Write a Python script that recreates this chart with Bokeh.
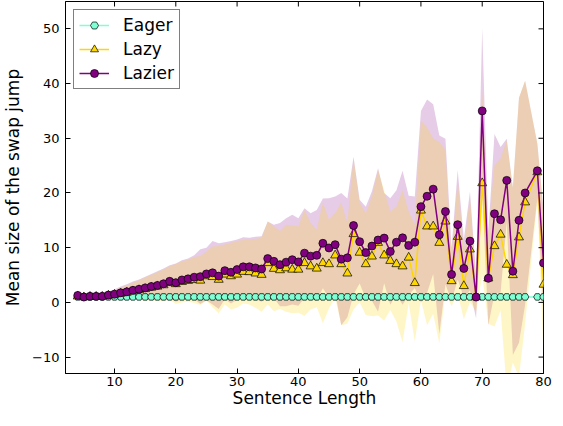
import math
from bokeh.plotting import figure
from bokeh.models import Range1d, FixedTicker, Legend, LegendItem, ColumnDataSource
from bokeh.embed import file_html
from bokeh.resources import INLINE

# Sentence lengths (78 missing in the data)
lengths = [4, 5, 6, 7, 8, 9, 10, 11, 12, 13, 14, 15, 16, 17, 18, 19, 20, 21, 22, 23,
           24, 25, 26, 27, 28, 29, 30, 31, 32, 33, 34, 35, 36, 37, 38, 39, 40, 41, 42, 43,
           44, 45, 46, 47, 48, 49, 50, 51, 52, 53, 54, 55, 56, 57, 58, 59, 60, 61, 62, 63,
           64, 65, 66, 67, 68, 69, 70, 71, 72, 73, 74, 75, 76, 77, 79, 80]

eager = [1.0, 1.0, 1.0, 1.0, 1.0, 1.0, 1.0, 1.0, 1.0, 1.0, 1.0, 1.0, 1.0, 1.0, 1.0, 1.0, 1.0, 1.0, 1.0, 1.0,
         1.0, 1.0, 1.0, 1.0, 1.0, 1.0, 1.0, 1.0, 1.0, 1.0, 1.0, 1.0, 1.0, 1.0, 1.0, 1.0, 1.0, 1.0, 1.0, 1.0,
         1.0, 1.0, 1.0, 1.0, 1.0, 1.0, 1.0, 1.0, 1.0, 1.0, 1.0, 1.0, 1.0, 1.0, 1.0, 1.0, 1.0, 1.0, 1.0, 1.0,
         1.0, 1.0, 1.0, 1.0, 1.0, 1.0, 1.0, 1.0, 1.0, 1.0, 1.0, 1.0, 1.0, 1.0, 1.0, 1.0]

lazy = [1.1, 0.95, 1.05, 1.05, 1.05, 1.25, 1.4, 1.6, 1.8, 2.05, 2.25, 2.45, 2.7, 2.9, 3.15, 3.55, 3.35, 3.75, 3.95, 4.1,
        4.0, 4.8, 4.65, 4.15, 5.1, 4.8, 5.1, 5.6, 5.55, 5.3, 5.05, 7.2, 6.15, 5.9, 6.25, 6.0, 6.0, 7.2, 6.6, 6.2,
        7.2, 7.0, 8.6, 7.0, 5.3, 12.5, 9.1, 7.0, 8.4, 10.9, 8.6, 7.6, 7.0, 6.6, 8.2, 3.55, 16.8, 13.9, 13.9, 10.9,
        14.8, 3.9, 12.0, 3.0, 9.7, 0.97, 21.8, 4.4, 10.3, 12.4, 6.9, 5.0, 11.9, 18.3, 23.8, 3.25]

lazier = [1.27, 0.97, 1.1, 1.1, 1.1, 1.33, 1.5, 1.75, 1.93, 2.2, 2.4, 2.65, 2.9, 3.1, 3.4, 3.85, 3.6, 4.1, 4.3, 4.6,
          4.7, 5.2, 5.4, 4.8, 5.8, 5.5, 6.0, 6.5, 6.5, 6.3, 6.1, 8.0, 7.5, 6.9, 7.35, 7.8, 7.4, 9.0, 8.45, 8.6,
          10.8, 9.95, 10.55, 7.9, 8.15, 14.05, 11.1, 9.1, 10.3, 11.4, 11.75, 9.3, 11.0, 11.8, 10.4, 11.0, 17.5, 19.4, 20.7, 12.35,
          16.6, 5.1, 14.2, 6.2, 11.2, 0.97, 35.0, 4.4, 16.2, 15.1, 22.3, 5.7, 15.0, 20.0, 24.05, 7.2]

# upper edge of each shaded band (band is symmetric about the mean)
lazy_upper = [1.1, 0.95, 1.1, 1.2, 1.4, 1.8, 2.2, 2.7, 3.1, 3.6, 4.0, 4.6, 5.0, 5.5, 6.0, 6.6, 7.0, 7.5, 7.8, 8.3,
              8.5, 9.3, 10.2, 10.3, 10.6, 10.9, 11.2, 11.4, 11.5, 11.6, 11.8, 14.8, 13.9, 13.0, 14.2, 14.0, 13.9, 16.9, 14.5, 13.3,
              18.2, 15.1, 16.3, 18.2, 14.5, 26.3, 18.2, 16.3, 19.35, 24.2, 20.5, 16.6, 17.5, 20.5, 16.6, 14.25, 33.2, 32.0, 29.9, 29.3,
              27.8, 8.5, 22.4, 9.1, 19.35, 3.7, 38.6, 12.7, 25.0, 26.3, 29.6, 21.0, 37.4, 40.5, 29.0, 16.3]

lazier_upper = [1.3, 1.0, 1.2, 1.3, 1.5, 2.0, 2.4, 2.9, 3.3, 3.8, 4.2, 4.7, 5.2, 5.7, 6.2, 6.8, 7.1, 7.7, 8.0, 8.6,
                9.7, 10.0, 11.2, 10.8, 11.0, 11.2, 11.5, 11.9, 11.8, 12.0, 12.1, 14.8, 14.2, 14.5, 15.4, 16.0, 15.4, 17.2, 16.3, 16.9,
                19.0, 19.05, 19.35, 20.0, 19.0, 26.6, 18.75, 17.5, 20.3, 24.5, 20.0, 19.05, 20.5, 24.05, 19.5, 19.35, 35.0, 37.1, 36.2, 30.5,
                29.9, 10.0, 24.2, 11.5, 20.25, 4.9, 50.1, 13.0, 30.8, 28.4, 29.9, 21.0, 37.4, 40.5, 29.0, 17.0]

y_ticks = [-10, 0, 10, 20, 30, 40, 50]
x_ticks = [10, 20, 30, 40, 50, 60, 70, 80]

X_MIN, X_MAX = 2, 80
Y_MIN, Y_MAX = -13, 55

FONT = "DejaVu Sans"

lazy_lower = [2 * m - u for m, u in zip(lazy, lazy_upper)]
lazier_lower = [2 * m - u for m, u in zip(lazier, lazier_upper)]

src = ColumnDataSource(dict(x=lengths, eager=eager, lazy=lazy, lazier=lazier,
                            lazy_lo=lazy_lower, lazy_hi=lazy_upper,
                            lazier_lo=lazier_lower, lazier_hi=lazier_upper))

p = figure(width=553, height=410, output_backend="svg", toolbar_location=None,
           x_range=Range1d(X_MIN, X_MAX), y_range=Range1d(Y_MIN, Y_MAX),
           min_border_left=57, min_border_right=10, min_border_top=1, min_border_bottom=10)
p.background_fill_color = "white"
p.border_fill_color = "white"
p.outline_line_color = "black"
p.outline_line_width = 1
p.grid.visible = False

# bands
p.varea(x="x", y1="lazier_lo", y2="lazier_hi", source=src, fill_color="#800080", fill_alpha=0.2)
p.varea(x="x", y1="lazy_lo", y2="lazy_hi", source=src, fill_color="#FFD700", fill_alpha=0.22)

# lines + markers
le = p.line(x="x", y="eager", source=src, line_color="#7FFFD4", line_width=1.5)
se = p.scatter(x="x", y="eager", source=src, marker="hex", size=7.5,
               fill_color="#7FFFD4", line_color="black", line_width=0.7)
ll = p.line(x="x", y="lazy", source=src, line_color="#FFD700", line_width=1.5)
sl = p.scatter(x="x", y="lazy", source=src, marker="triangle", size=9,
               fill_color="#FFD700", line_color="black", line_width=0.7)
lz = p.line(x="x", y="lazier", source=src, line_color="#800080", line_width=1.5)
sz = p.scatter(x="x", y="lazier", source=src, marker="circle", size=8,
               fill_color="#800080", line_color="black", line_width=0.7)

# inward tick marks on the top and right frame edges (half of each dash is clipped by the frame)
p.scatter(x=x_ticks, y=[Y_MAX for _ in x_ticks], marker="dash", size=10, angle=math.pi / 2,
          line_color="black", line_width=1)
p.scatter(x=[X_MAX for _ in y_ticks], y=y_ticks, marker="dash", size=10,
          line_color="black", line_width=1)

# axes
for ax, ticks in ((p.xaxis[0], x_ticks), (p.yaxis[0], y_ticks)):
    ax.ticker = FixedTicker(ticks=ticks)
    ax.axis_line_color = "black"
    ax.major_tick_line_color = "black"
    ax.major_tick_in = 5
    ax.major_tick_out = 0
    ax.minor_tick_line_color = None
    ax.major_label_text_font = FONT
    ax.major_label_text_font_size = "13px"
    ax.major_label_text_color = "black"
    ax.major_label_text_line_height = 1.0
    ax.axis_label_text_font = FONT
    ax.axis_label_text_font_style = "normal"
    ax.axis_label_text_color = "black"
    ax.axis_label_text_font_size = "17px"
    ax.axis_label_text_line_height = 1.0

p.xaxis.axis_label = "Sentence Length"
p.yaxis.axis_label = "Mean size of the swap jump"
p.xaxis[0].major_label_standoff = 3
p.xaxis[0].axis_label_standoff = -1
p.yaxis[0].major_label_standoff = 6
p.yaxis[0].axis_label_standoff = 6
p.yaxis[0].major_label_overrides = {-10: "\u221210"}

legend = Legend(items=[
    LegendItem(label="Eager", renderers=[le, se]),
    LegendItem(label="Lazy", renderers=[ll, sl]),
    LegendItem(label="Lazier", renderers=[lz, sz]),
], location="top_left")
legend.label_text_font = FONT
legend.label_text_font_size = "17px"
legend.label_text_color = "black"
legend.border_line_color = "black"
legend.border_line_width = 1
legend.background_fill_color = "white"
legend.background_fill_alpha = 1
legend.glyph_width = 30
legend.glyph_height = 20
legend.label_height = 20
legend.label_standoff = 14
legend.spacing = 4
legend.padding = 5
legend.margin = 8
p.add_layout(legend, "center")

open("out.html", "w").write(file_html(p, INLINE))
